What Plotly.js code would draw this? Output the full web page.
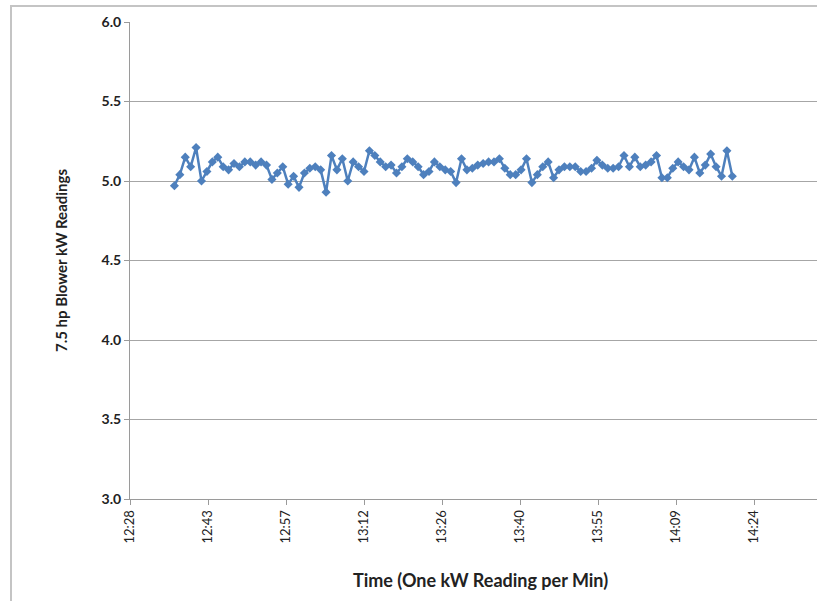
<!DOCTYPE html>
<html>
<head>
<meta charset="utf-8">
<script src="https://cdn.plot.ly/plotly-3.0.1.min.js"></script>
<style>
  html, body { margin: 0; padding: 0; overflow: hidden; background: #fff; width: 817px; height: 601px; }
  #frame { position: absolute; left: 10px; top: 5px; width: 1200px; height: 700px; border-left: 2px solid #c4c4c4; border-top: 2px solid #c4c4c4; }
  #chart { position: absolute; left: 0; top: 0; width: 1000px; height: 601px; }
</style>
</head>
<body>
<div id="frame"></div>
<div id="chart"></div>
<script>
// Readings (kW), one per minute, starting at 12:37
const startTime = '2000-01-01 12:37:00';
const kwReadings = [
  4.97, 5.04, 5.15, 5.09, 5.21, 5.00, 5.06, 5.12, 5.15, 5.09,
  5.07, 5.11, 5.09, 5.12, 5.12, 5.10, 5.12, 5.10, 5.01, 5.05,
  5.09, 4.98, 5.03, 4.96, 5.05, 5.08, 5.09, 5.07, 4.93, 5.16,
  5.07, 5.14, 5.00, 5.12, 5.09, 5.06, 5.19, 5.16, 5.12, 5.09,
  5.10, 5.05, 5.09, 5.14, 5.12, 5.09, 5.04, 5.06, 5.12, 5.09,
  5.07, 5.06, 4.99, 5.14, 5.07, 5.08, 5.10, 5.11, 5.12, 5.12,
  5.14, 5.08, 5.04, 5.04, 5.07, 5.14, 4.99, 5.04, 5.09, 5.12,
  5.02, 5.07, 5.09, 5.09, 5.09, 5.06, 5.06, 5.08, 5.13, 5.10,
  5.08, 5.08, 5.09, 5.16, 5.09, 5.15, 5.09, 5.10, 5.12, 5.16,
  5.02, 5.02, 5.08, 5.12, 5.09, 5.07, 5.15, 5.05, 5.10, 5.17,
  5.09, 5.03, 5.19, 5.03
];
const tickTimes = ['12:28:48', '12:43:12', '12:57:36', '13:12:00', '13:26:24',
                   '13:40:48', '13:55:12', '14:09:36', '14:24:00', '14:38:24'];
const tickLabels = ['12:28', '12:43', '12:57', '13:12', '13:26',
                    '13:40', '13:55', '14:09', '14:24', '14:38'];
const yTitle = '7.5 hp Blower kW Readings';
const xTitle = 'Time (One kW Reading per Min)';

function pad(n) { return (n < 10 ? '0' : '') + n; }
const t0 = new Date(startTime.replace(' ', 'T') + 'Z').getTime();
const xTimes = kwReadings.map((_, i) => {
  const d = new Date(t0 + i * 60000);
  return '2000-01-01 ' + pad(d.getUTCHours()) + ':' + pad(d.getUTCMinutes()) + ':00';
});

const trace = {
  x: xTimes,
  y: kwReadings,
  type: 'scatter',
  mode: 'lines+markers',
  line: { color: '#4e80bd', width: 2.5 },
  marker: { symbol: 'diamond', size: 7, color: '#4e80bd' },
  hoverinfo: 'x+y'
};

const layout = {
  width: 1000,
  height: 601,
  margin: { l: 130, r: 0, t: 22, b: 102 },
  paper_bgcolor: 'rgba(0,0,0,0)',
  plot_bgcolor: '#fff',
  showlegend: false,
  font: { family: 'Lato, "Open Sans", sans-serif', color: '#222' },
  xaxis: {
    type: 'date',
    range: ['2000-01-01 12:28:48', '2000-01-01 15:09:25'],
    tickmode: 'array',
    tickvals: tickTimes.map(t => '2000-01-01 ' + t),
    ticktext: tickLabels,
    tickangle: -90,
    tickfont: { size: 13, color: '#222' },
    ticks: 'outside', ticklen: 5, tickcolor: '#9a9a9a',
    showgrid: false, zeroline: false,
    showline: true, linecolor: '#9a9a9a', linewidth: 1
  },
  yaxis: {
    range: [3, 6],
    dtick: 0.5,
    tickformat: '.1f',
    tickprefix: '<b>', ticksuffix: '</b>',
    tickfont: { size: 14, color: '#222' },
    ticks: 'outside', ticklen: 5, tickcolor: '#9a9a9a',
    showgrid: true, gridcolor: '#a6a6a6', gridwidth: 1,
    zeroline: false,
    showline: true, linecolor: '#9a9a9a', linewidth: 1,
    title: { text: '<b>' + yTitle + '</b>', font: { size: 15, color: '#222' }, standoff: 30 }
  },
  annotations: [{
    xref: 'paper', yref: 'paper',
    x: (480 - 130) / 870, y: 0,
    xanchor: 'center', yanchor: 'middle',
    yshift: -(580 - 499),
    showarrow: false,
    text: '<b>' + xTitle + '</b>',
    font: { size: 18, color: '#222' }
  }]
};

Plotly.newPlot('chart', [trace], layout, { displayModeBar: false, staticPlot: true });
</script>
</body>
</html>
